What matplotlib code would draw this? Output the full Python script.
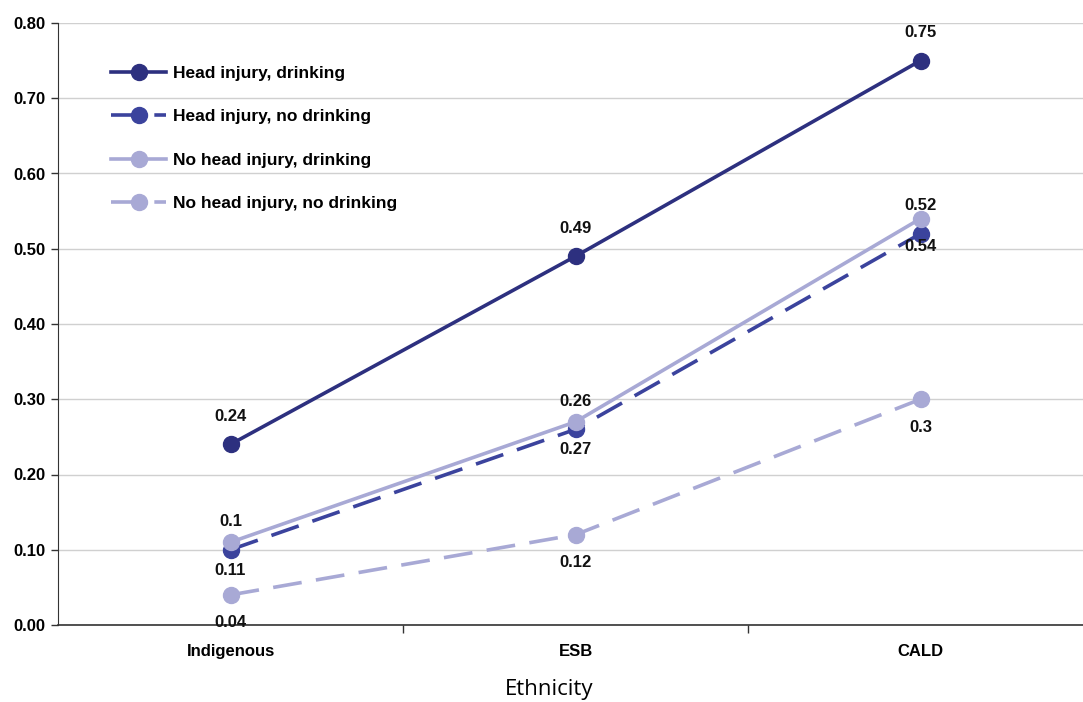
import matplotlib.pyplot as plt
from matplotlib.ticker import MultipleLocator, FixedLocator

# values per ethnicity group
groups = ["Indigenous", "ESB", "CALD"]
head_drink = [0.24, 0.49, 0.75]
head_no_drink = [0.10, 0.26, 0.52]
no_head_drink = [0.11, 0.27, 0.54]
no_head_no_drink = [0.04, 0.12, 0.30]

series = [
    ("Head injury, drinking", head_drink, "#2d307f", "-", 1),
    ("Head injury, no drinking", head_no_drink, "#3b439d", (0, (8, 4)), 1),
    ("No head injury, drinking", no_head_drink, "#a8a9d5", "-", -1),
    ("No head injury, no drinking", no_head_no_drink, "#a8a9d5", (0, (8, 4)), -1),
]

plt.rcParams['font.family'] = ['Liberation Sans', 'DejaVu Sans']

fig = plt.figure(figsize=(10.83, 7.02), dpi=100)
ax = fig.add_axes([58 / 1083, 77 / 702, 1035 / 1083, 602 / 702])

x = list(range(len(groups)))
for name, vals, color, ls, side in series:
    ax.plot(x, vals, color=color, linestyle=ls, lw=2.6, marker="o",
            markersize=11.5, label=name, zorder=3)
    for xi, v in zip(x, vals):
        ax.annotate(f"{v:g}", (xi, v), xytext=(0, 20 * side),
                    textcoords="offset points", ha="center", va="center",
                    fontsize=12, fontweight="bold", color="#111111")

ax.set_xlim(-0.5, 2.5)
ax.set_ylim(0, 0.8)
ax.yaxis.set_major_locator(MultipleLocator(0.1))
ax.yaxis.set_major_formatter(plt.FuncFormatter(lambda v, p: f"{v:.2f}"))
ax.grid(axis="y", color="#d0d0d0", lw=1)
ax.set_axisbelow(True)

ax.set_xticks(x)
ax.set_xticklabels(groups)
ax.xaxis.set_minor_locator(FixedLocator([0.5, 1.5]))
ax.tick_params(axis="x", which="major", length=0, pad=14)
ax.tick_params(axis="x", which="minor", length=6, width=1, color="#333333")
ax.tick_params(axis="y", length=5, width=1, color="#333333", pad=4)
for lab in ax.get_xticklabels() + ax.get_yticklabels():
    lab.set_fontsize(12)
    lab.set_fontweight("bold")

for s in ["top", "right"]:
    ax.spines[s].set_visible(False)
ax.spines["left"].set_color("#333333")
ax.spines["bottom"].set_color("#333333")
ax.spines["bottom"].set_linewidth(1.2)

ax.legend(loc="upper left", bbox_to_anchor=(0.036, 0.955), frameon=False,
          prop={"weight": "bold", "size": 12.5}, labelspacing=1.63,
          handlelength=3.2, handletextpad=0.35)

fig.text(549 / 1083, 12 / 702, "Ethnicity", ha="center", va="center",
         fontsize=16, family=["Open Sans", "DejaVu Sans"])

fig.savefig("out.png", dpi=100)
